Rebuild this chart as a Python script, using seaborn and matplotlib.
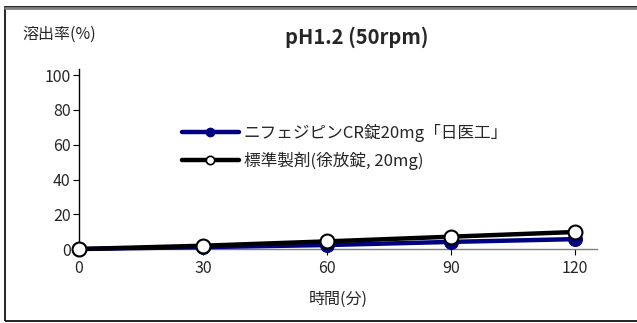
import matplotlib
matplotlib.use("Agg")
import matplotlib.pyplot as plt
import seaborn as sns
import pandas as pd
from matplotlib.patches import Rectangle
from matplotlib.lines import Line2D

sns.set_theme(style="white")
plt.rcParams["font.family"] = ["Noto Sans CJK JP", "DejaVu Sans"]

# dissolution data
time_min = [0, 30, 60, 90, 120]
test_product = [0, 1.1, 2.3, 4.1, 5.7]
reference_product = [0, 1.9, 4.4, 7.1, 9.8]
series_names = ["ニフェジピンCR錠20mg「日医工」", "標準製剤(徐放錠, 20mg)"]
x_ticks = [0, 30, 60, 90, 120]
y_ticks = [0, 20, 40, 60, 80, 100]

df = pd.DataFrame({
    "time": time_min * 2,
    "rate": test_product + reference_product,
    "series": [series_names[0]] * len(time_min) + [series_names[1]] * len(time_min),
})

fig = plt.figure(figsize=(6.37, 3.23), dpi=100)
ax = fig.add_axes([0.124, 0.229, 0.813, 0.557])

navy = "#000080"
sns.lineplot(data=df[df.series == series_names[0]], x="time", y="rate", ax=ax,
             color=navy, linewidth=3.2, marker="o", markersize=10,
             markerfacecolor=navy, markeredgecolor=navy, clip_on=False, zorder=3)
sns.lineplot(data=df[df.series == series_names[1]], x="time", y="rate", ax=ax,
             color="black", linewidth=3.2, marker="o", markersize=10,
             markerfacecolor="white", markeredgecolor="black", markeredgewidth=1.5,
             clip_on=False, zorder=4)

ax.set_xlim(0, 125.3)
ax.set_ylim(0, 103.5)
ax.set_xticks(x_ticks)
ax.set_yticks(y_ticks)
ax.tick_params(axis="both", labelsize=11.5, length=4, width=0.8, color="black",
               direction="out", bottom=True, left=True)
ax.tick_params(axis="x", pad=4)
ax.tick_params(axis="y", pad=2)
for s in ["top", "right"]:
    ax.spines[s].set_visible(False)
ax.spines["left"].set_color("black")
ax.spines["left"].set_linewidth(1.0)
ax.spines["bottom"].set_color("#808080")
ax.spines["bottom"].set_linewidth(1.0)
ax.set_xlabel("時間(分)", fontsize=11.5, labelpad=10)
ax.set_ylabel("")

fig.text(0.035, 0.895, "溶出率(%)", fontsize=11.5, ha="left", va="center")
fig.text(0.56, 0.885, "pH1.2 (50rpm)", fontsize=14.5, fontweight="bold",
         ha="center", va="center")

handles = [
    Line2D([], [], color=navy, linewidth=3.2, marker="o", markersize=6,
           markerfacecolor=navy, markeredgecolor=navy),
    Line2D([], [], color="black", linewidth=3.2, marker="o", markersize=6,
           markerfacecolor="white", markeredgecolor="black", markeredgewidth=1.2),
]
ax.legend(handles, series_names, loc="upper left", bbox_to_anchor=(0.17, 0.78),
          frameon=False, fontsize=12, handlelength=3.4, handletextpad=0.3,
          labelspacing=0.6)

# figure frame
fig.add_artist(Rectangle((5 / 637, 2 / 323), 640 / 637, 314 / 323,
                         transform=fig.transFigure, fill=False,
                         edgecolor="black", linewidth=1.2))
fig.add_artist(Line2D([5 / 637, 1.0], [315.5 / 323, 315.5 / 323],
                      transform=fig.transFigure, color="#808080", linewidth=2))

fig.savefig("out.png", dpi=100)
